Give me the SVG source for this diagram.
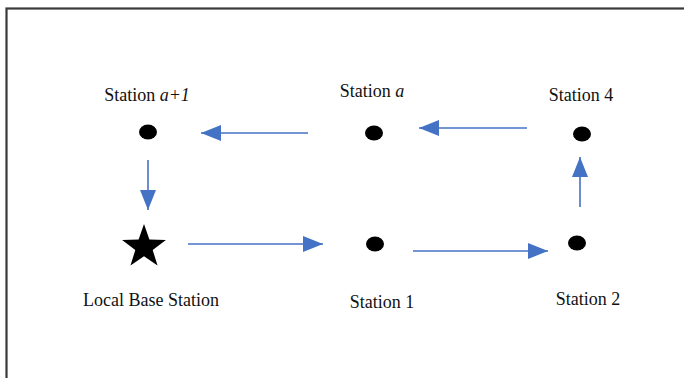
<svg xmlns="http://www.w3.org/2000/svg" width="684" height="378" viewBox="0 0 684 378">
  <defs>
    <marker id="head" viewBox="0 0 20 16" refX="20" refY="8" markerWidth="20" markerHeight="16" markerUnits="userSpaceOnUse" orient="auto">
      <path d="M0,0 L20,8 L0,16 Z" fill="#4472C4"/>
    </marker>
    <style>
      .lbl { font-family: "Liberation Serif", "Times New Roman", serif; font-size: 18px; fill: #111; text-anchor: middle; }
      .it { font-style: italic; }
      .dot { fill: #000; }
      .link { stroke: #4472C4; stroke-width: 1.6; fill: none; marker-end: url(#head); }
    </style>
  </defs>
  <rect width="684" height="378" fill="#fff"/>
  <!-- outer frame, open to the right and bottom -->
  <rect x="6.5" y="8.5" width="720" height="420" fill="none" stroke="#3a3a3a" stroke-width="2.2"/>

  <g id="station-a1">
    <text class="lbl" x="147" y="101">Station <tspan class="it">a+1</tspan></text>
    <ellipse class="dot" cx="148" cy="132" rx="9" ry="7.5"/>
  </g>
  <g id="station-a">
    <text class="lbl" x="372" y="97">Station <tspan class="it">a</tspan></text>
    <ellipse class="dot" cx="374" cy="133" rx="9" ry="7.5"/>
  </g>
  <g id="station-4">
    <text class="lbl" x="581" y="101">Station 4</text>
    <ellipse class="dot" cx="582" cy="134" rx="9" ry="7.5"/>
  </g>
  <g id="base-station">
    <polygon class="dot" points="144,224 149.4,239.6 165.9,240 152.7,249.9 157.5,265.6 144,256.2 130.5,265.6 135.3,249.9 122.1,240 138.6,239.6"/>
    <text class="lbl" x="151" y="306">Local Base Station</text>
  </g>
  <g id="station-1">
    <ellipse class="dot" cx="375" cy="244" rx="9" ry="7.5"/>
    <text class="lbl" x="382" y="308">Station 1</text>
  </g>
  <g id="station-2">
    <ellipse class="dot" cx="577" cy="243" rx="9" ry="7.5"/>
    <text class="lbl" x="588" y="305">Station 2</text>
  </g>

  <g id="connectors">
    <line class="link" x1="308" y1="133" x2="201" y2="133"/>
    <line class="link" x1="527" y1="128" x2="419" y2="128"/>
    <line class="link" x1="148" y1="160" x2="148" y2="210"/>
    <line class="link" x1="188" y1="244" x2="323" y2="244"/>
    <line class="link" x1="413" y1="251" x2="548" y2="251"/>
    <line class="link" x1="580" y1="207" x2="580" y2="157"/>
  </g>
</svg>
